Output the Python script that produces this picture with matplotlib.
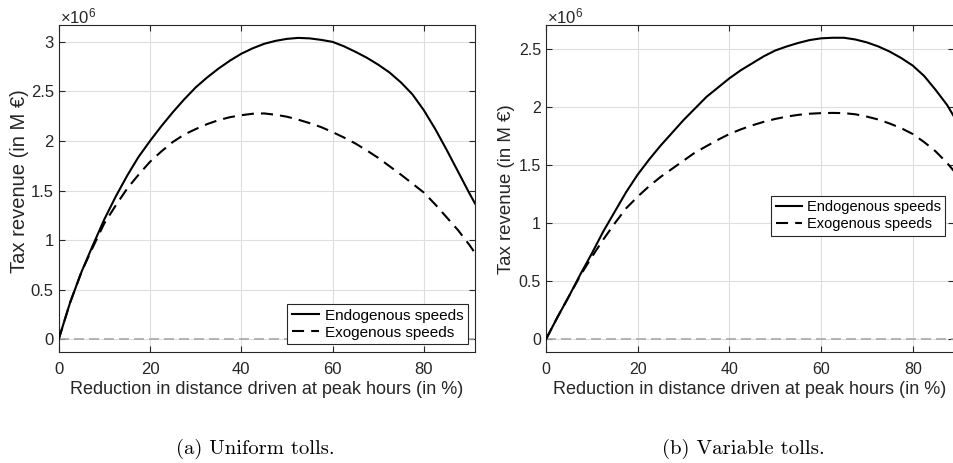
import matplotlib
matplotlib.use("Agg")
import matplotlib.pyplot as plt
from matplotlib.ticker import FuncFormatter

plt.rcParams["font.family"] = ["Liberation Sans", "DejaVu Sans"]
plt.rcParams["mathtext.fontset"] = "custom"
plt.rcParams["mathtext.rm"] = "Liberation Sans"
plt.rcParams["mathtext.it"] = "Liberation Sans"

x_uni = [0, 2.5, 5, 7.5, 10, 12.5, 15, 17.5, 20, 22.5, 25, 27.5, 30, 32.5, 35, 37.5, 40, 42.5, 45,
         47.5, 50, 52.5, 55, 57.5, 60, 62.5, 65, 67.5, 70, 72.5, 75, 77.5, 80, 82.5, 85, 87.5, 90, 91.2]
x_var = [0, 2.5, 5, 7.5, 10, 12.5, 15, 17.5, 20, 22.5, 25, 27.5, 30, 32.5, 35, 37.5, 40, 42.5, 45,
         47.5, 50, 52.5, 55, 57.5, 60, 62.5, 65, 67.5, 70, 72.5, 75, 77.5, 80, 82.5, 85, 87.5, 89]

# (a) uniform tolls, revenue in units of 1e6
y_uni_endo = [0, 0.37, 0.68, 0.95, 1.21, 1.44, 1.65, 1.84, 2.0, 2.15, 2.29, 2.42, 2.54, 2.64, 2.73,
              2.81, 2.88, 2.935, 2.98, 3.01, 3.03, 3.04, 3.035, 3.02, 3.0, 2.955, 2.9, 2.84, 2.77,
              2.69, 2.59, 2.47, 2.31, 2.12, 1.91, 1.69, 1.47, 1.37]
y_uni_exo = [0, 0.37, 0.68, 0.93, 1.17, 1.35, 1.52, 1.66, 1.79, 1.895, 1.99, 2.065, 2.12, 2.17, 2.21,
             2.24, 2.26, 2.275, 2.278, 2.265, 2.245, 2.215, 2.18, 2.14, 2.09, 2.035, 1.975, 1.905,
             1.83, 1.745, 1.66, 1.57, 1.48, 1.36, 1.23, 1.1, 0.95, 0.87]

# (b) variable tolls
y_var_endo = [0, 0.19, 0.37, 0.56, 0.74, 0.93, 1.1, 1.27, 1.42, 1.55, 1.67, 1.78, 1.89, 1.99, 2.09,
              2.17, 2.25, 2.32, 2.38, 2.44, 2.49, 2.525, 2.555, 2.58, 2.595, 2.6, 2.6, 2.585, 2.56,
              2.525, 2.48, 2.425, 2.36, 2.27, 2.15, 2.02, 1.92]
y_var_exo = [0, 0.19, 0.37, 0.55, 0.71, 0.86, 1.0, 1.13, 1.23, 1.32, 1.4, 1.47, 1.54, 1.61, 1.665,
             1.72, 1.77, 1.81, 1.845, 1.875, 1.9, 1.92, 1.935, 1.945, 1.95, 1.952, 1.95, 1.94, 1.92,
             1.895, 1.86, 1.82, 1.77, 1.7, 1.62, 1.52, 1.45]

scale = 1e6
labels = ["Endogenous speeds", "Exogenous speeds"]
captions = ["(a) Uniform tolls.", "(b) Variable tolls."]

dark = "#262626"
fig = plt.figure(figsize=(9.54, 4.63), dpi=100)
ax1 = fig.add_axes([0.0615, 0.2404, 0.4364, 0.7056])
ax2 = fig.add_axes([0.5723, 0.2404, 0.4277, 0.7056])

panels = [
    (ax1, x_uni, y_uni_endo, y_uni_exo, (0, 91.2), (-0.125, 3.17), [0, 0.5, 1, 1.5, 2, 2.5, 3], 12),
    (ax2, x_var, y_var_endo, y_var_exo, (0, 89), (-0.107, 2.71), [0, 0.5, 1, 1.5, 2, 2.5], 11.5),
]

for ax, xs, ye, yx, xl, yl, yt, fs in panels:
    ax.axhline(0, color="#a8a8a8", lw=1.2, ls=(0, (6, 3)), zorder=1)
    ax.plot(xs, [v * scale for v in ye], color="black", lw=1.5, label=labels[0], zorder=3)
    ax.plot(xs, [v * scale for v in yx], color="black", lw=1.5, ls=(0, (5.8, 3.4)),
            label=labels[1], zorder=3)
    ax.set_xlim(*xl)
    ax.set_ylim(yl[0] * scale, yl[1] * scale)
    ax.set_xticks([0, 20, 40, 60, 80])
    ax.set_yticks([v * scale for v in yt])
    ax.yaxis.set_major_formatter(FuncFormatter(lambda v, p: f"{v / scale:g}"))
    ax.grid(True, color="#dedede", lw=0.8)
    ax.set_axisbelow(True)
    ax.tick_params(direction="in", length=4, width=0.8, colors=dark, labelsize=fs,
                   top=True, right=True)
    ax.tick_params(axis="x", pad=7.5)
    for s in ax.spines.values():
        s.set_color(dark)
        s.set_linewidth(0.8)
    ax.set_xlabel("Reduction in distance driven at peak hours (in %)", fontsize=13,
                  color=dark, labelpad=3)
    ax.text(0.003, 0.995, "×10$^{6}$", transform=ax.transAxes, fontsize=12,
            color=dark, va="bottom", ha="left")

ax2.spines["right"].set_visible(False)

fig.text(0.0207, 0.608, "Tax revenue (in M €)", rotation=90, ha="center", va="center",
         fontsize=14.5, color=dark)
fig.text(0.5311, 0.592, "Tax revenue (in M €)", rotation=90, ha="center", va="center",
         fontsize=13.4, color=dark)

leg_kw = dict(frameon=True, fancybox=False, framealpha=1, edgecolor=dark,
              borderaxespad=0, handlelength=1.8, handletextpad=0.35, labelspacing=0.2,
              borderpad=0.3)
l1 = ax1.legend(loc="lower right", bbox_to_anchor=(0.9825, 0.0227), fontsize=11, **leg_kw)
l2 = ax2.legend(loc="upper right", bbox_to_anchor=(0.9787, 0.4766), fontsize=10.5, **leg_kw)
for l in (l1, l2):
    l.get_frame().set_linewidth(0.8)

fig.text(0.268, 0.030, captions[0], ha="center", va="center", fontsize=14.9, family="cmr10")
fig.text(0.779, 0.030, captions[1], ha="center", va="center", fontsize=15, family="cmr10")

fig.savefig("out.png", dpi=100)
